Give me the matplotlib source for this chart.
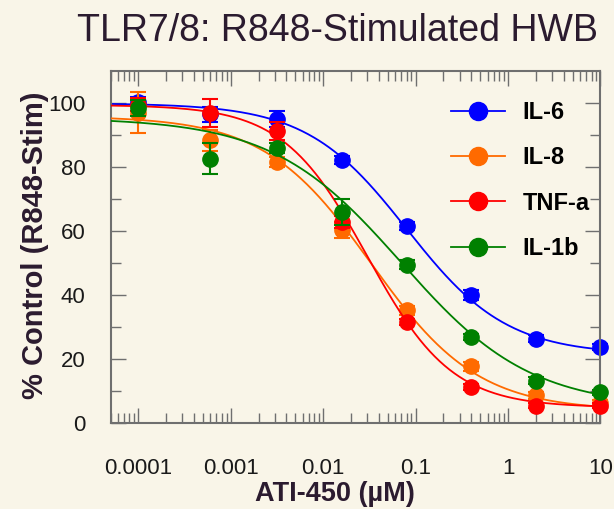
import numpy as np
import matplotlib
matplotlib.use("Agg")
import matplotlib.pyplot as plt
from matplotlib.lines import Line2D
from matplotlib.ticker import FixedLocator, LogLocator, NullFormatter

plt.rcParams['font.family'] = ['Liberation Sans', 'DejaVu Sans']

# concentrations of ATI-450 (uM)
conc = [0.0001, 0.0006, 0.0032, 0.016, 0.08, 0.4, 2, 10]

series_names = ["IL-6", "IL-8", "TNF-a", "IL-1b"]
colors = ["#0000ff", "#ff6a00", "#ff0000", "#008000"]

il6 = [100.5, 96.5, 95.0, 82.2, 61.7, 40.2, 26.5, 23.9]
il6_err = [1.5, 2.2, 2.5, 1.2, 1.2, 1.5, 1.0, 1.0]
il8 = [97.0, 88.4, 81.7, 60.3, 35.3, 17.8, 8.8, 6.5]
il8_err = [6.4, 3.4, 1.6, 2.5, 1.5, 1.5, 1.0, 0.8]
tnfa = [99.5, 97.0, 91.3, 62.9, 31.7, 11.4, 5.6, 5.6]
tnfa_err = [2.0, 4.3, 2.9, 2.0, 1.0, 1.0, 0.8, 0.8]
il1b = [98.5, 82.7, 86.1, 66.0, 49.6, 27.0, 13.4, 9.8]
il1b_err = [2.5, 4.8, 1.5, 4.0, 1.5, 1.0, 1.0, 0.8]

# 4-parameter logistic fits: top, bottom, IC50, hill
fit_top = [100.0, 96.0, 99.5, 95.5]
fit_bottom = [21.5, 4.0, 5.0, 5.0]
fit_ic50 = [0.08, 0.033, 0.03, 0.07]
fit_hill = [0.8, 0.75, 0.95, 0.62]

y_ticks = [0, 20, 40, 60, 80, 100]
x_ticks = [0.0001, 0.001, 0.01, 0.1, 1, 10]
x_ticklabels = ["0.0001", "0.001", "0.01", "0.1", "1", "10"]

bg = "#f9f5e8"
spine_col = "#6f6f6f"
text_col = "#2b1b2f"

fig = plt.figure(figsize=(6.14, 5.09), dpi=100, facecolor=bg)
ax = fig.add_axes([0.180, 0.168, 0.798, 0.692], facecolor=bg)

xs = np.logspace(np.log10(5e-5), 1, 400)
values = [il6, il8, tnfa, il1b]
errors = [il6_err, il8_err, tnfa_err, il1b_err]
for i in range(len(series_names)):
    fit = fit_bottom[i] + (fit_top[i] - fit_bottom[i]) / (1 + (xs / fit_ic50[i]) ** fit_hill[i])
    ax.plot(xs, fit, color=colors[i], lw=1.3, zorder=2 + i)
    ax.errorbar(conc, values[i], yerr=errors[i], fmt='o', color=colors[i], ms=11,
                capsize=6, elinewidth=1.5, capthick=1.5, zorder=2 + i, clip_on=False)

ax.set_xscale('log')
ax.set_xlim(5e-5, 10)
ax.set_ylim(0, 110)

ax.xaxis.set_major_locator(FixedLocator(x_ticks))
ax.set_xticklabels(x_ticklabels)
ax.xaxis.set_minor_locator(LogLocator(base=10, subs=np.arange(2, 10), numticks=20))
ax.xaxis.set_minor_formatter(NullFormatter())
ax.yaxis.set_major_locator(FixedLocator(y_ticks))
ax.yaxis.set_minor_locator(FixedLocator([10, 30, 50, 70, 90]))

ax.tick_params(which='both', direction='in', top=True, right=True, color=spine_col, width=1.0)
ax.tick_params(which='major', length=11, labelsize=16, labelcolor="#1a1a1a")
ax.tick_params(which='minor', length=7)
ax.tick_params(axis='x', which='major', pad=25)
ax.tick_params(axis='y', which='major', pad=18)
for s in ax.spines.values():
    s.set_color(spine_col)
    s.set_linewidth(1.5)

ax.set_xlabel("ATI-450 (\u00b5M)", fontsize=19.5, fontweight='bold', color=text_col)
ax.xaxis.set_label_coords(0.458, -0.163)
ax.set_ylabel("% Control (R848-Stim)", fontsize=21, fontweight='bold', color=text_col)
ax.yaxis.set_label_coords(-0.125, 0.505)
fig.text(0.55, 0.94, "TLR7/8: R848-Stimulated HWB", fontsize=27, color=text_col,
         ha='center', va='center')

handles = [Line2D([], [], color=c, lw=1.3, marker='o', ms=13) for c in colors]
ax.legend(handles, series_names, loc='upper left', bbox_to_anchor=(0.694, 0.916),
          frameon=False, borderpad=0, borderaxespad=0, handlelength=2.3,
          handletextpad=0.75, labelspacing=0.95,
          prop={'size': 17, 'weight': 'bold'})

fig.savefig("out.png", dpi=100, facecolor=bg)
